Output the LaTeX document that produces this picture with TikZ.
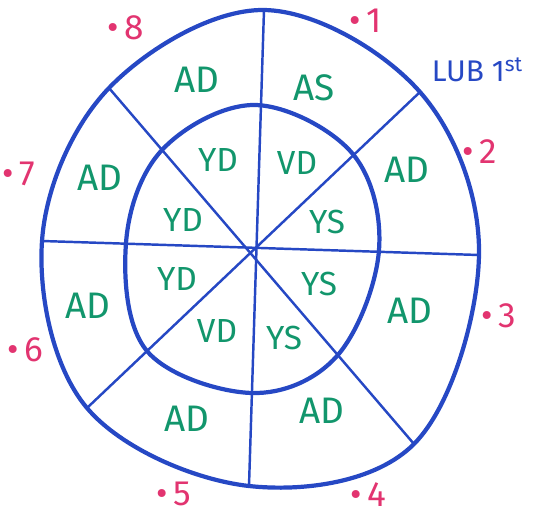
\documentclass[tikz,border=0pt]{standalone}
\usepackage{fontspec}
\setmainfont{Fira Sans}
\definecolor{penblue}{RGB}{38,72,196}
\definecolor{pengreen}{RGB}{18,150,108}
\definecolor{penpink}{RGB}{226,52,112}
\begin{document}
\begin{tikzpicture}[x=0.1mm,y=-0.1mm,
  ring/.style={draw=penblue,line width=1.2pt,line join=round},
  spoke/.style={draw=penblue,line width=0.7pt},
  chamber/.style={text=pengreen,font=\fontsize{10.5}{12}\selectfont},
  wall/.style={text=pengreen,font=\fontsize{9.5}{11}\selectfont},
  point/.style={text=penpink,font=\fontsize{10}{12}\selectfont},
  note/.style={text=penblue,font=\fontsize{8.5}{10}\selectfont}]

\useasboundingbox (0,0) rectangle (547,516);

\coordinate (top) at (264,10);
\coordinate (bot) at (249,486);
\coordinate (lft) at (42,241);
\coordinate (rgt) at (479,255);
\coordinate (tl) at (109,88);
\coordinate (br) at (414,444);
\coordinate (tr) at (420,92);
\coordinate (bl) at (87,408);

\draw[ring] plot[smooth cycle,tension=0.6] coordinates {(264,10) (420,92) (479,255)
  (414,444) (249,486) (87,408) (42,241) (109,88)};
\draw[ring] plot[smooth cycle,tension=0.6] coordinates {(255,105) (352,153) (379,250)
  (337,356) (252,393) (147,351) (126,243) (162,150)};

\foreach \a/\b in {top/bot, lft/rgt, tl/br, tr/bl}
\draw[spoke] (\a) -- (\b);

\foreach \x/\y/\t [count=\i] in {197/80/AD, 314/88/AS, 407/170/AD, 410/311/AD,
  322/411/AD, 187/419/AD, 88/306/AD, 100/178/AD}
\node[chamber] (out\i) at (\x,\y) {\t};

\foreach \x/\y/\t [count=\i] in {218/160/YD, 297/163/VD, 327/222/YS, 319/284/YS,
  284/338/YS, 217/331/VD, 177/279/YD, 183/220/YD}
\node[wall] (in\i) at (\x,\y) {\t};

\foreach \x/\y [count=\i] in {366/21, 480/152, 499/316, 368/495,
  174/494, 25/350, 19/174, 126/28}
\node[point] (p\i) at (\x,\y) {\textbullet\,\i};

\node[note] (lub) at (478,70) {LUB 1\textsuperscript{st}};
\end{tikzpicture}
\end{document}
